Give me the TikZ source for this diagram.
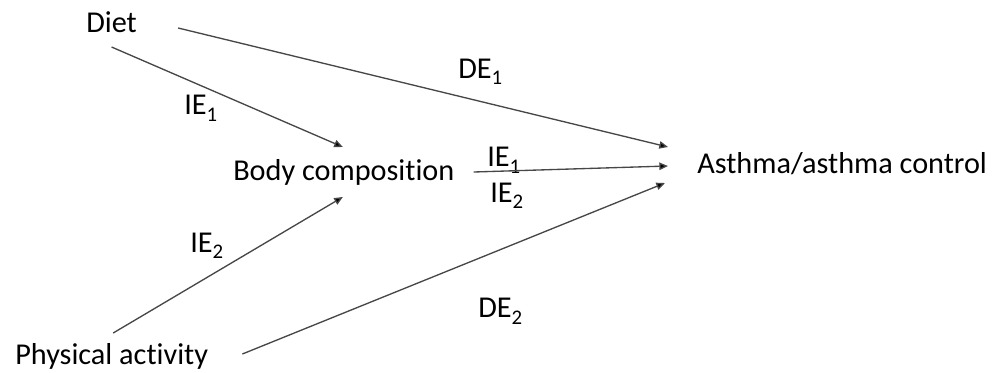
\documentclass[tikz,border=0pt]{standalone}
\usepackage{fontspec}
\setmainfont{Carlito}[Ligatures=NoCommon]
\usetikzlibrary{arrows.meta}
\newcommand{\mysub}[1]{\raisebox{-0.22em}{\fontsize{15.6}{17}\selectfont #1}}
\begin{document}
\begin{tikzpicture}[x=0.75pt,y=-0.75pt,
  lbl/.style={anchor=base west,inner sep=0pt,font=\fontsize{22.7}{27}\selectfont},
  conn/.style={draw=black!72,line width=1pt,-{Triangle[length=6.5pt,width=5.5pt,fill=black]}}]
\useasboundingbox (0,0) rectangle (1003,372);
% main nodes
\node[lbl] (diet) at (86,32) {Diet};
\node[lbl] (body) at (233,180.5) {Body composition};
\node[lbl] (asthma) at (697,173) {Asthma/asthma control};
\node[lbl] (pa) at (15,364) {Physical activity};
% edge labels
\node[lbl] (ie1a) at (184,114.5) {IE\mysub{1}};
\node[lbl] (ie2a) at (190,252) {IE\mysub{2}};
\node[lbl] (ie1b) at (487,166.5) {IE\mysub{1}};
\node[lbl] (ie2b) at (490,202) {IE\mysub{2}};
\node[lbl] (de1) at (458,78) {DE\mysub{1}};
\node[lbl] (de2) at (478,317.5) {DE\mysub{2}};
% ports
\coordinate (dietS) at ([shift={(0,15)}]diet.base);
\coordinate (dietE) at ([shift={(41,-4)}]diet.base east);
\coordinate (bodyN) at ([shift={(-1,-33.5)}]body.base);
\coordinate (bodyS) at ([shift={(-1,16.5)}]body.base);
\coordinate (bodyE) at ([shift={(19,-8.5)}]body.base east);
\coordinate (paN) at ([shift={(1.5,-31)}]pa.base);
\coordinate (paE) at ([shift={(34,-10)}]pa.base east);
\coordinate (asA) at ([shift={(-29,-26)}]asthma.base west);
\coordinate (asB) at ([shift={(-29,-7)}]asthma.base west);
\coordinate (asC) at ([shift={(-32,10)}]asthma.base west);
% connectors
\draw[conn] (dietS) -- (bodyN);
\draw[conn] (paN) -- (bodyS);
\draw[conn] (dietE) -- (asA);
\draw[conn] (bodyE) -- (asB);
\draw[conn] (paE) -- (asC);
\end{tikzpicture}
\end{document}
